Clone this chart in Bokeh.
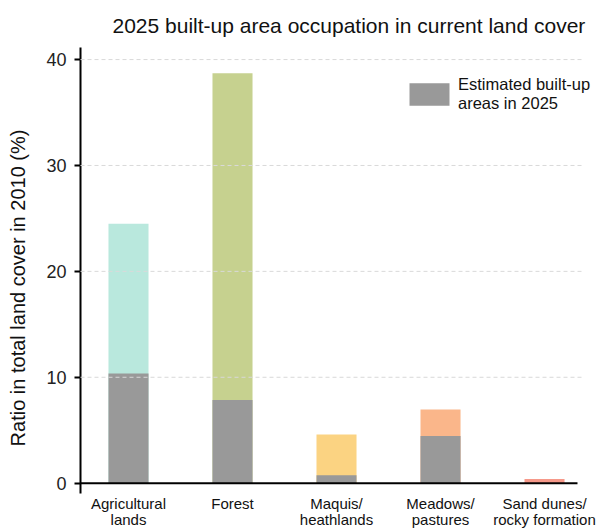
from bokeh.plotting import figure
from bokeh.models import ColumnDataSource, Legend, LegendItem, FixedTicker, Title, LabelSet
from bokeh.core.properties import value
from bokeh.embed import file_html
from bokeh.resources import INLINE

categories = ["Agricultural\nlands", "Forest", "Maquis/\nheathlands", "Meadows/\npastures", "Sand dunes/\nrocky formation"]
total_2010 = [24.5, 38.7, 4.6, 6.95, 0.4]
built_2025 = [10.35, 7.85, 0.75, 4.45, 0.0]
colors = ["#b9e8dd", "#c6d18f", "#fbd382", "#fab68a", "#f6998a"]
yticks = [0, 10, 20, 30, 40]

FONT = "Liberation Sans"
n = len(categories)
xs = list(range(n))
line1 = [c.split("\n")[0] for c in categories]
line2 = [c.split("\n")[1] if "\n" in c else "" for c in categories]
src = ColumnDataSource(dict(x=xs, total=total_2010, built=built_2025, color=colors,
                            line1=line1, line2=line2, base=[0] * n))

x_start, x_end = -0.4615, n - 1 + 0.519
y_start, y_end = -4.28, 41.14
axis_bottom = -0.97

p = figure(width=600, height=528, x_range=(x_start, x_end), y_range=(y_start, y_end),
           output_backend="svg", toolbar_location=None,
           min_border_left=80, min_border_right=2, min_border_top=47, min_border_bottom=0)
p.outline_line_color = None
p.background_fill_color = "white"

p.vbar(x="x", top="total", bottom=0, width=0.385, fill_color="color", line_color=None, source=src)
gr = p.vbar(x="x", top="built", bottom=0, width=0.385, fill_color="#999999", line_color=None, source=src)

# dashed horizontal grid lines (drawn over the bars), ending short of the frame edge
grid_y = yticks[1:]
p.segment(x0=[x_start] * len(grid_y), x1=[n - 1 + 0.375] * len(grid_y), y0=grid_y, y1=grid_y,
          line_color="#d9d9d9", line_width=1, line_dash="4 3", level="overlay")
# zero baseline
p.segment(x0=[x_start], x1=[n - 1 + 0.317], y0=[0], y1=[0],
          line_color="black", line_width=2, level="overlay")

p.xgrid.visible = False
p.ygrid.visible = False
p.xaxis.visible = False

p.yaxis.bounds = (axis_bottom, y_end)
p.yaxis.ticker = FixedTicker(ticks=yticks)
p.yaxis.axis_line_color = "black"
p.yaxis.axis_line_width = 2
p.yaxis.major_tick_line_color = "black"
p.yaxis.major_tick_line_width = 2
p.yaxis.major_tick_out = 6
p.yaxis.major_tick_in = 0
p.yaxis.minor_tick_line_color = None
p.yaxis.major_label_standoff = 8
p.yaxis.major_label_text_font = FONT
p.yaxis.major_label_text_font_size = "18px"
p.yaxis.major_label_text_color = "#222222"
p.yaxis.axis_label = "Ratio in total land cover in 2010 (%)"
p.yaxis.axis_label_text_font = FONT
p.yaxis.axis_label_text_font_size = "20px"
p.yaxis.axis_label_text_font_style = "normal"
p.yaxis.axis_label_text_color = "#111111"
p.yaxis.axis_label_standoff = 14

lab1 = LabelSet(x="x", y="base", text="line1", source=src, y_offset=-20,
                text_align="center", text_baseline="middle",
                text_font=value(FONT), text_font_size="15px", text_color="#111111")
lab2 = LabelSet(x="x", y="base", text="line2", source=src, y_offset=-36,
                text_align="center", text_baseline="middle",
                text_font=value(FONT), text_font_size="15px", text_color="#111111")
p.add_layout(lab1)
p.add_layout(lab2)

title = Title(text="2025 built-up area occupation in current land cover", align="left", offset=32,
              text_font=FONT, text_font_size="21px", text_font_style="normal", text_color="#111111",
              standoff=22)
p.add_layout(title, "above")

legend = Legend(items=[LegendItem(label="Estimated built-up\nareas in 2025", renderers=[gr])],
                location=(324, 415), glyph_width=50, glyph_height=28,
                label_text_font=FONT, label_text_font_size="16.5px", label_text_color="#111111",
                label_text_line_height=1.0,
                border_line_color=None, background_fill_alpha=0, padding=0, margin=0,
                label_standoff=4)
p.add_layout(legend, "center")

open("out.html", "w").write(file_html(p, INLINE))
